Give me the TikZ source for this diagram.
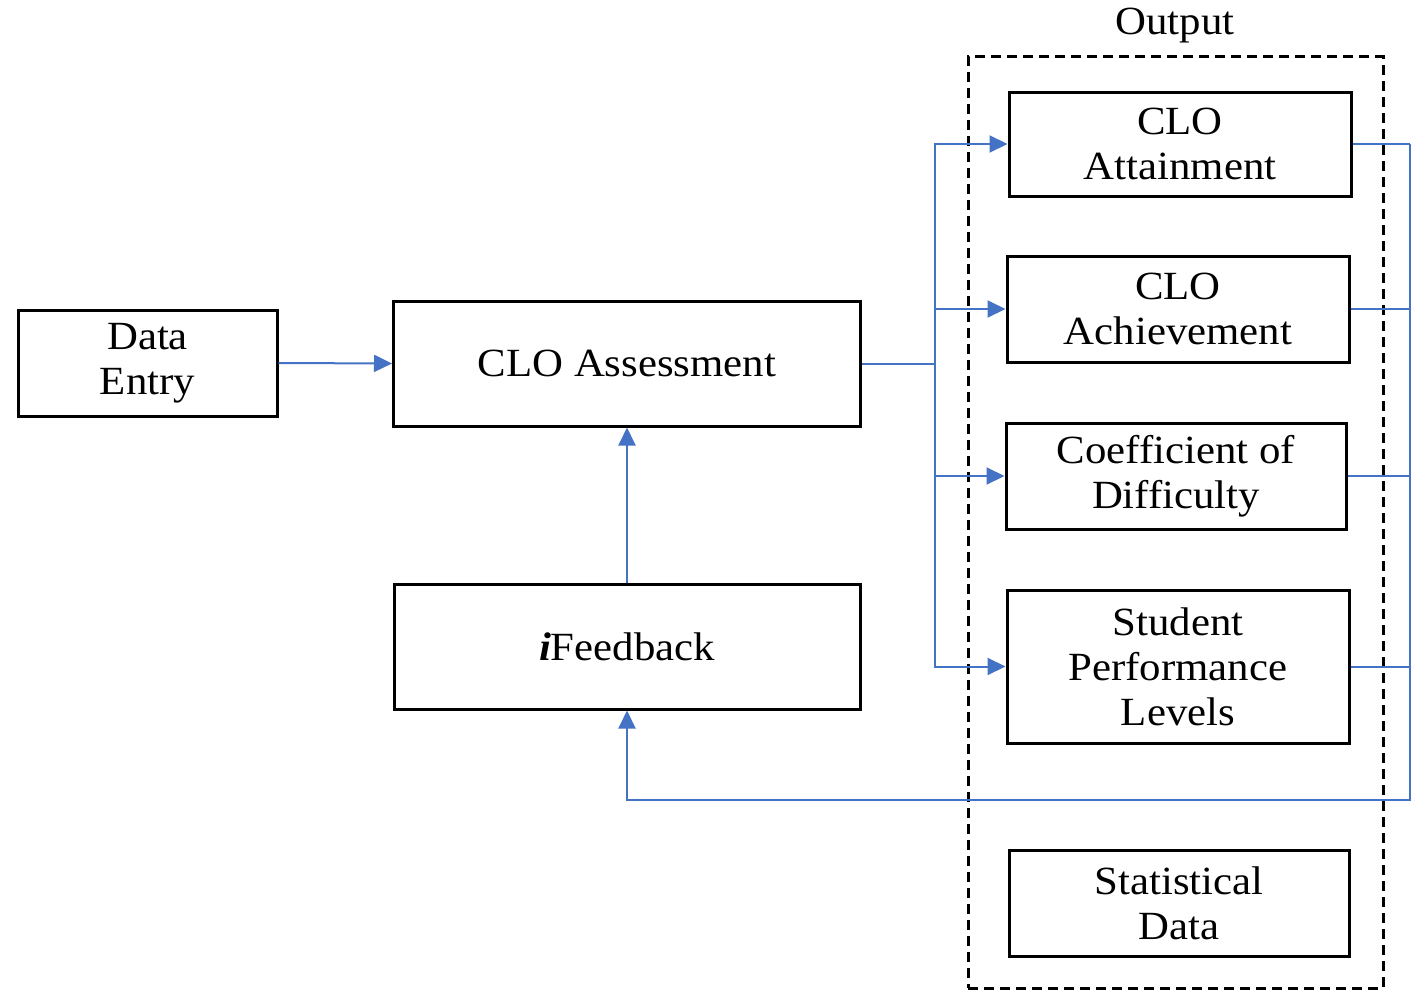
\documentclass[tikz,border=0pt]{standalone}
\usepackage{fontspec}
\setmainfont{Liberation Serif}[FakeStretch=1.07]
\usetikzlibrary{arrows.meta}
\definecolor{linkblue}{HTML}{4472C4}
\begin{document}
\begin{tikzpicture}[x=1pt,y=-1pt,
  box/.style={draw, line width=3pt, align=center, inner sep=0pt,
              font=\fontsize{40}{45}\selectfont},
  frame/.style={draw, line width=3pt, dash pattern=on 10pt off 6pt},
  link/.style={draw=linkblue, line width=2pt},
  arr/.style={link, -{Triangle[length=18pt,width=17pt]}}]
\useasboundingbox (0,0) rectangle (1411,990);

% main flow
\node[box, minimum width=259, minimum height=106] (de) at (147.5,363) {Data\\Entry};
\node[box, minimum width=467, minimum height=125] (assess) at (627,363.5) {CLO Assessment};
\node[box, minimum width=466, minimum height=125] (fb) at (627,646.5) {\textbf{\textit{i}}Feedback};

% output group
\node[frame, minimum width=415, minimum height=931] (outbox) at (1175.5,522.5) {};
\node[font=\fontsize{40}{45}\selectfont] (outlabel) at (1175,26) {Output};
\node[box, minimum width=342, minimum height=104] (att) at (1180,144) {CLO\\Attainment};
\node[box, minimum width=342, minimum height=106] (ach) at (1178,309) {CLO\\Achievement};
\node[box, minimum width=340, minimum height=106] (cod) at (1176,476) {Coefficient of\\Difficulty};
\node[box, minimum width=342, minimum height=153] (spl) at (1178,666.5) {Student\\Performance\\Levels};
\node[box, minimum width=340, minimum height=106] (stat) at (1179,903) {Statistical\\Data};

% connectors
\coordinate (split) at (935,363.5);
\coordinate (busTop) at (1410,144);
\coordinate (busBot) at (1410,800);

\draw[arr] (de.east) -- (assess.west);
\draw[arr] (fb.north) -- (assess.south);
\draw[link] (assess.east) -- (split);
\draw[arr] (split) |- (att.west);
\draw[arr] (split) |- (ach.west);
\draw[arr] (split) |- (cod.west);
\draw[arr] (split) |- (spl.west);

\draw[link] (att.east) -- (busTop);
\draw[link] (ach.east) -- (ach.east -| busTop);
\draw[link] (cod.east) -- (cod.east -| busTop);
\draw[link] (spl.east) -- (spl.east -| busTop);
\draw[arr] (busTop) -- (busBot) -| (fb.south);
\end{tikzpicture}
\end{document}
